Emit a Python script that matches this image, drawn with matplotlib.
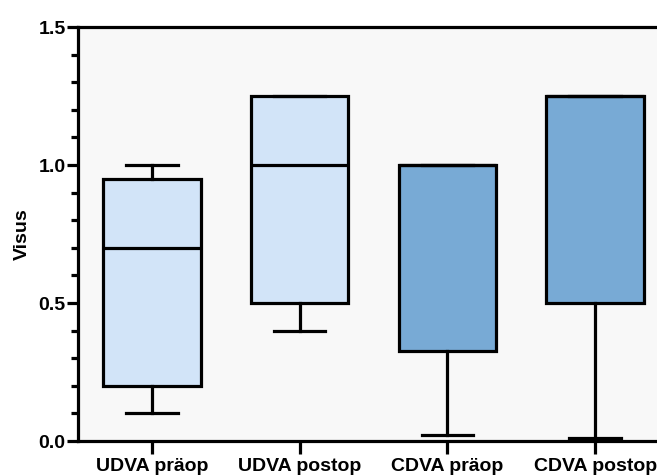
import matplotlib
matplotlib.use("Agg")
import matplotlib.pyplot as plt
from matplotlib.ticker import MultipleLocator, FormatStrFormatter

plt.rcParams['font.family'] = ['Liberation Sans', 'DejaVu Sans']

groups = ['UDVA präop', 'UDVA postop', 'CDVA präop', 'CDVA postop']
whislo = [0.10, 0.40, 0.02, 0.01]
q1 = [0.20, 0.50, 0.325, 0.50]
med = [0.70, 1.00, 1.00, 1.25]
q3 = [0.95, 1.25, 1.00, 1.25]
whishi = [1.00, 1.25, 1.00, 1.25]
colors = ['#d2e4f8', '#d2e4f8', '#78aad5', '#78aad5']

stats = []
for i in range(len(groups)):
    stats.append(dict(label=groups[i], whislo=whislo[i], q1=q1[i], med=med[i],
                      q3=q3[i], whishi=whishi[i], fliers=[]))

fig = plt.figure(figsize=(6.57, 4.76), dpi=100)
# axes runs a little past the right edge of the figure
ax = fig.add_axes([78 / 657, 35 / 476, 591 / 657, 414 / 476])
ax.set_facecolor('#f8f8f8')

lw = 2.3
bp = ax.bxp(stats, positions=[1, 2, 3, 4], widths=0.66, patch_artist=True,
            showfliers=False, capwidths=0.35,
            boxprops=dict(linewidth=lw, edgecolor='black'),
            medianprops=dict(color='black', linewidth=lw),
            whiskerprops=dict(color='black', linewidth=lw),
            capprops=dict(color='black', linewidth=lw))
for patch, c in zip(bp['boxes'], colors):
    patch.set_facecolor(c)

ax.set_xlim(0.5, 4.5)
ax.set_ylim(0, 1.5)
ax.yaxis.set_major_locator(MultipleLocator(0.5))
ax.yaxis.set_minor_locator(MultipleLocator(0.1))
ax.yaxis.set_major_formatter(FormatStrFormatter('%.1f'))

for s in ['left', 'bottom', 'top', 'right']:
    ax.spines[s].set_linewidth(lw)
ax.tick_params(axis='y', which='major', length=8, width=lw, labelsize=14, pad=1)
ax.tick_params(axis='y', which='minor', length=5, width=lw)
ax.tick_params(axis='x', which='major', length=9, width=lw, labelsize=14, pad=3)
for lab in ax.get_xticklabels() + ax.get_yticklabels():
    lab.set_fontweight('bold')

ax.set_ylabel('Visus', fontsize=14, fontweight='bold', labelpad=5)

fig.savefig('out.png', dpi=100)
